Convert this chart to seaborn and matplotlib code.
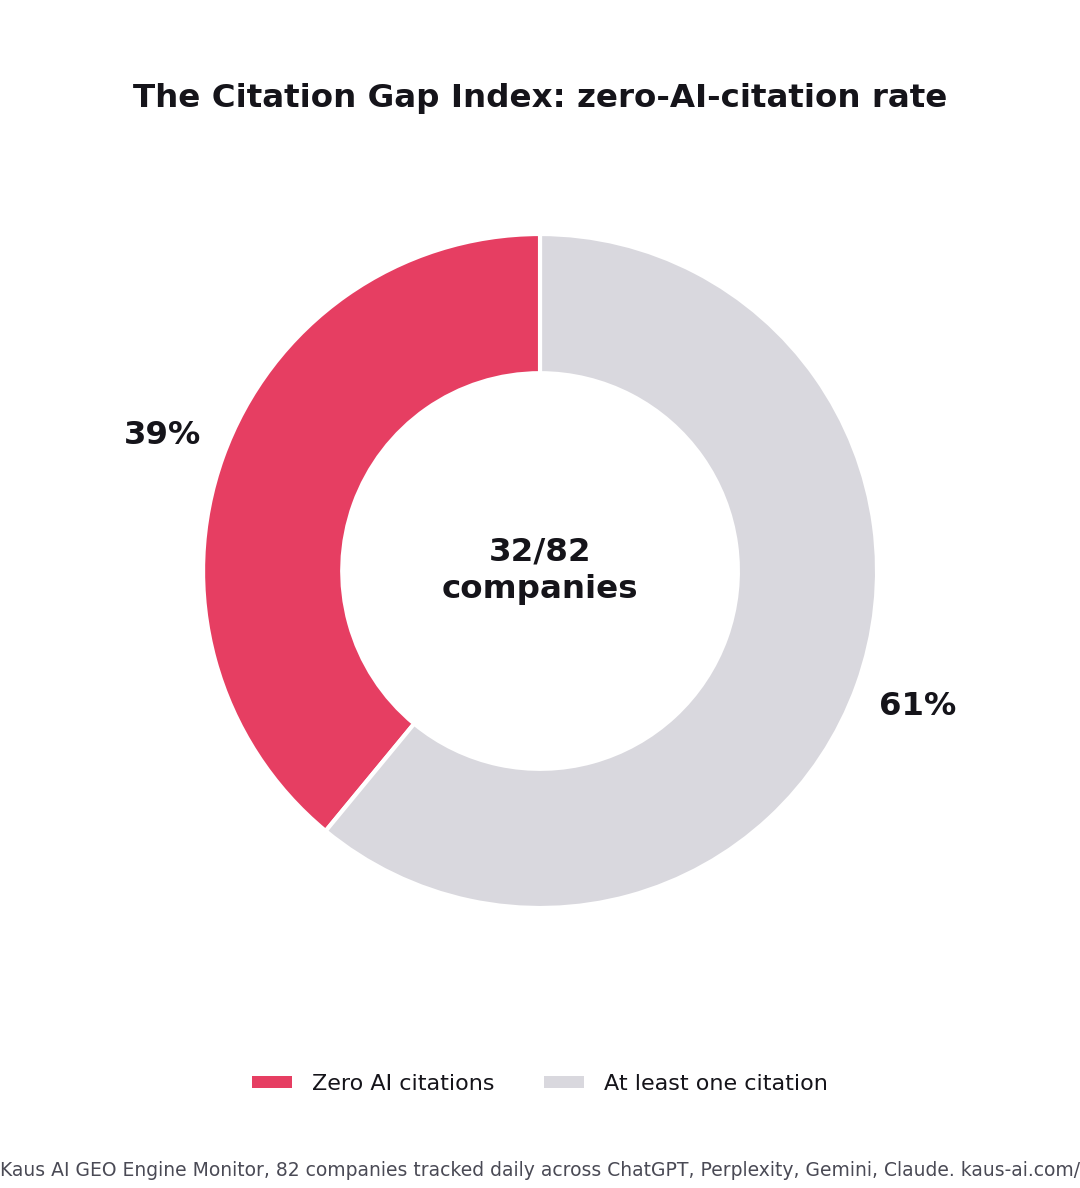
import matplotlib
matplotlib.use("Agg")
import matplotlib.pyplot as plt
import seaborn as sns
from matplotlib.patches import Patch

sns.set_theme(style="white")
plt.rcParams['font.family'] = ['DejaVu Sans']

categories = ["Zero AI citations", "At least one citation"]
values = [32, 50]
colors = ["#E63E62", "#D9D8DE"]
title = "The Citation Gap Index: zero-AI-citation rate"
center_text = "32/82\ncompanies"
footer = "Kaus AI GEO Engine Monitor, 82 companies tracked daily across ChatGPT, Perplexity, Gemini, Claude. kaus-ai.com/"

dark = "#15141A"

fig = plt.figure(figsize=(10.8, 11.88), dpi=100)
k = 1.4
ax = fig.add_axes([0.0632, 0.1222, 0.8737, 0.7943])
wedges, texts, autotexts = ax.pie(
    values, colors=colors, startangle=90, counterclock=True,
    autopct=lambda p: f"{p:.0f}%", pctdistance=1.19,
    wedgeprops=dict(width=0.413, edgecolor="white", linewidth=3),
    textprops=dict(fontsize=23.2, fontweight="bold", color=dark),
)
ax.set_xlim(-k, k)
ax.set_ylim(-k, k)
ax.set_aspect("equal")
ax.axis("off")
ax.text(0, 0, center_text, ha="center", va="center", fontsize=23.4,
        fontweight="bold", color=dark, linespacing=1.27)

fig.text(0.5, 1 - 98 / 1188, title, ha="center", va="center", fontsize=23.4,
         fontweight="bold", color=dark)

handles = [Patch(facecolor=c, edgecolor="none") for c in colors]
fig.legend(handles, categories, loc="center", bbox_to_anchor=(0.5, 1 - 1084 / 1188),
           ncol=2, frameon=False, fontsize=16, handlelength=1.8, handleheight=0.45,
           handletextpad=0.9, columnspacing=2.2, labelcolor=dark)

fig.text(0.5, 1 - 1170 / 1188, footer, ha="center", va="center", fontsize=13.5,
         color="#4A4A55")

fig.savefig("out.png", dpi=100, facecolor="white")
